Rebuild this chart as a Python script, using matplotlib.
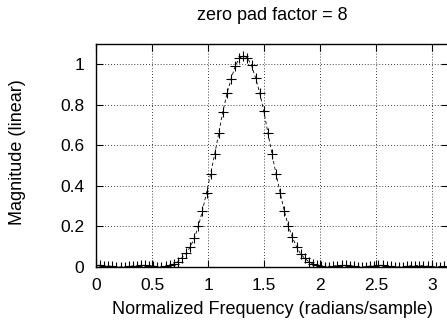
"""Zero-padded spectrum magnitude, zero pad factor 8."""

import numpy as np
import matplotlib
matplotlib.use("Agg")
import matplotlib.pyplot as plt

plt.rcParams["font.family"] = ["Liberation Sans", "DejaVu Sans"]

# bins span 0..pi, 172-point FFT (only first half shown)
FFT_SIZE = 172

# magnitude, one value per bin k = 0..85
mag = [
    0.008, 0.008, 0.007, 0.005, 0.003, 0.001, 0.000, 0.001, 0.003, 0.005,
    0.007, 0.008, 0.008, 0.007, 0.005, 0.002, 0.000, 0.003,
    # main lobe k = 18..54
    0.008, 0.015, 0.026, 0.046, 0.068, 0.098, 0.141, 0.200, 0.278, 0.366,
    0.460, 0.556, 0.662, 0.766, 0.856, 0.927, 0.990, 1.030, 1.042, 1.032,
    0.994, 0.932, 0.859, 0.768, 0.662, 0.557, 0.458, 0.366, 0.277, 0.202,
    0.146, 0.099, 0.064, 0.043, 0.026, 0.015, 0.008,
    # right tail k = 55..85
    0.003, 0.000, 0.002, 0.005, 0.007, 0.008, 0.008, 0.006, 0.004, 0.001,
    0.000, 0.002, 0.005, 0.007, 0.008, 0.008, 0.006, 0.004, 0.002, 0.000,
    0.002, 0.004, 0.006, 0.007, 0.007, 0.006, 0.004, 0.002, 0.001, 0.002,
    0.003,
]

xticks = [0, 0.5, 1, 1.5, 2, 2.5, 3]
xtick_labels = ["0", "0.5", "1", "1.5", "2", "2.5", "3"]
yticks = [0, 0.2, 0.4, 0.6, 0.8, 1.0]
ytick_labels = ["0", "0.2", "0.4", "0.6", "0.8", "1"]

freq = np.arange(len(mag)) * 2 * np.pi / FFT_SIZE

W, H = 447, 330
fig = plt.figure(figsize=(W / 100, H / 100), dpi=100)
ax = fig.add_axes([96 / W, 1 - 267 / H, 352 / W, 223 / H])

ax.plot(freq, mag, color="black", linestyle=(0, (4, 3)), linewidth=0.6,
        marker="+", markersize=7.5, markeredgewidth=0.8)

ax.set_xlim(0, np.pi)
ax.set_ylim(0, 1.1)
ax.set_xticks(xticks)
ax.set_xticklabels(xtick_labels)
ax.set_yticks(yticks)
ax.set_yticklabels(ytick_labels)
ax.tick_params(direction="in", length=5, width=0.8, top=True, right=True,
               labelsize=12.5, colors="black")
ax.tick_params(axis="x", pad=8)
ax.tick_params(axis="y", pad=8.5)
ax.grid(True, color="black", linestyle=(0, (1, 2.5)), linewidth=0.6)
for s in ax.spines.values():
    s.set_linewidth(1.0)

cx = (96 + 448) / 2 / W
fig.text(cx, 1 - 15 / H, "zero pad factor = 8", fontsize=13,
         ha="center", va="center")
fig.text(cx, 1 - 310 / H, "Normalized Frequency (radians/sample)",
         fontsize=13, ha="center", va="center")
fig.text(18 / W, 1 - 152 / H, "Magnitude (linear)", fontsize=13,
         rotation=90, ha="center", va="center")

fig.savefig("out.png", dpi=100)
